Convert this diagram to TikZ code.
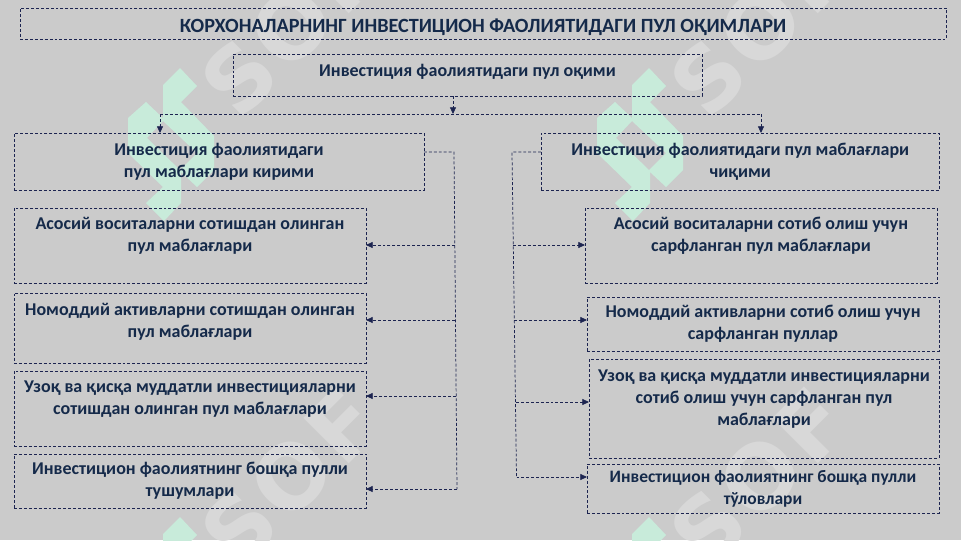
\documentclass[tikz,border=0pt]{standalone}
\usepackage{fontspec}
\setmainfont{Carlito}
\newfontfamily\softfont[LetterSpace=5]{DejaVu Sans}
\usepackage{xcolor}
\usetikzlibrary{arrows.meta}
\definecolor{pagegray}{HTML}{CBCBCB}
\definecolor{inkblue}{HTML}{152A4A}
\definecolor{linkblue}{HTML}{1C2450}
\definecolor{logogreen}{HTML}{C8EBDA}
\definecolor{softgray}{HTML}{D8D8D8}
\newcommand{\logoshape}[2]{%
    \fill[logogreen, even odd rule, shift={(#1,#2)}]
        (0,0) -- (17,18) -- (1,34) -- (34,68) -- (34,102) -- (17,119) -- (1,104) -- (1,135) -- (-16,153)
        -- (-34,135) -- (-17,119) -- (-52,85) -- (-52,50) -- (-34,34) -- (-17,50) -- (-17,17) -- cycle
        (-17,53) -- (17,85) -- (0,102) -- (-33,70) -- cycle;}

\begin{document}
\begin{tikzpicture}[
    x=0.75pt, y=-0.75pt,
    boxsize/.style 2 args={minimum width=#1*0.75pt, minimum height=#2*0.75pt},
    box/.style={rectangle, draw=linkblue, line width=0.55pt, dash pattern=on 2.2pt off 1.5pt, anchor=north west,
        align=center, inner sep=0pt, outer sep=0pt, text=inkblue, font=\fontsize{13.5}{16.5}\selectfont\bfseries},
    link/.style={draw=linkblue, line width=0.55pt, dash pattern=on 2.2pt off 1.5pt},
    arrow/.style={link, -{Stealth[length=5pt, width=4.5pt, inset=0pt]}},
    soft/.style={text=softgray, rotate=45, font=\softfont\fontsize{66}{66}\selectfont\bfseries}
]
    \clip (0,0) rectangle (961,540);
    \fill[pagegray] (0,0) rectangle (961,540);

    \foreach \i/\tx/\ty in {1/290/27, 2/759/27, 3/290/477, 4/759/477}
        \node[soft] (soft\i) at (\tx,\ty) {SOF};

    \logoshape{180}{68}
    \logoshape{649}{68}
    \logoshape{180}{517}
    \logoshape{649}{517}

    \node[box, boxsize={926}{31.5}, font=\fontsize{15.15}{17}\selectfont\bfseries, text height=12.4pt, text depth=0pt] (title) at (20,8) {КОРХОНАЛАРНИНГ ИНВЕСТИЦИОН ФАОЛИЯТИДАГИ ПУЛ ОҚИМЛАРИ};
    \node[box, boxsize={469}{42}] (flow) at (233,54) {Инвестиция фаолиятидаги пул оқими\\[-9pt]\mbox{}};

    \node[box, boxsize={410}{57}] (inflow) at (14,133) {Инвестиция фаолиятидаги\\пул маблағлари кирими};
    \node[box, boxsize={398.5}{57}] (outflow) at (541,133) {Инвестиция фаолиятидаги пул маблағлари\\чиқими};

    \node[box, boxsize={352}{75}] (inA) at (14,208) {Асосий воситаларни сотишдан олинган\\пул маблағлари\\\mbox{}};
    \node[box, boxsize={352}{70}] (inB) at (14,293) {Номоддий активларни сотишдан олинган\\пул маблағлари\\[-4.5pt]\mbox{}};
    \node[box, boxsize={352}{75}] (inC) at (14,371) {Узоқ ва қисқа муддатли инвестицияларни\\сотишдан олинган пул маблағлари\\\mbox{}};
    \node[box, boxsize={352}{54}] (inD) at (14,454) {Инвестицион фаолиятнинг бошқа пулли\\тушумлари};

    \node[box, boxsize={352}{75}] (outA) at (585,208) {Асосий воситаларни сотиб олиш учун\\сарфланган пул маблағлари\\\mbox{}};
    \node[box, boxsize={352}{54}] (outB) at (587,297) {Номоддий активларни сотиб олиш учун\\сарфланган пуллар};
    \node[box, boxsize={350}{99}] (outC) at (589,359) {Узоқ ва қисқа муддатли инвестицияларни\\сотиб олиш учун сарфланган пул\\маблағлари\\\mbox{}};
    \node[box, boxsize={352}{49}, font=\fontsize{13.1}{16.5}\selectfont\bfseries] (outD) at (587,464) {Инвестицион фаолиятнинг бошқа пулли\\тўловлари};

    \coordinate (bus) at (453,114);
    \coordinate (busL) at (160,114);
    \coordinate (busR) at (761,114);
    \coordinate (trunkL) at (454,152);
    \coordinate (tapLA) at (454.5,245);
    \coordinate (tapLB) at (455,320);
    \coordinate (tapLC) at (456,396);
    \coordinate (tapLD) at (457,489);
    \coordinate (trunkR) at (512,152);
    \coordinate (tapRA) at (513,245);
    \coordinate (tapRB) at (514,320);
    \coordinate (tapRC) at (516,402);
    \coordinate (tapRD) at (516.5,477);

    \draw[arrow] (flow.south -| bus) -- (bus);
    \draw[link] (busL) -- (busR);
    \draw[arrow] (busL) -- (inflow.north -| busL);
    \draw[arrow] (busR) -- (outflow.north -| busR);

    \draw[link] (inflow.east |- trunkL) -- (trunkL) -- (tapLD);
    \draw[arrow] (tapLA) -- (inA.east |- tapLA);
    \draw[arrow] (tapLB) -- (inB.east |- tapLB);
    \draw[arrow] (tapLC) -- (inC.east |- tapLC);
    \draw[arrow] (tapLD) -- (inD.east |- tapLD);

    \draw[link] (outflow.west |- trunkR) -- (trunkR) -- (tapRD);
    \draw[arrow] (tapRA) -- (outA.west |- tapRA);
    \draw[arrow] (tapRB) -- (outB.west |- tapRB);
    \draw[arrow] (tapRC) -- (outC.west |- tapRC);
    \draw[arrow] (tapRD) -- (outD.west |- tapRD);
\end{tikzpicture}
\end{document}
